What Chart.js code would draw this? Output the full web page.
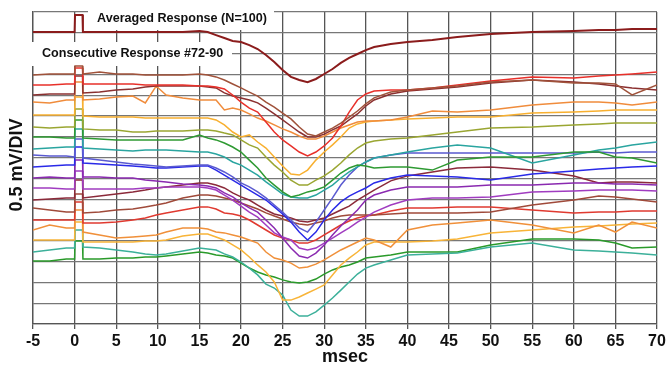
<!DOCTYPE html>
<html>
<head>
<meta charset="utf-8">
<script src="https://cdn.jsdelivr.net/npm/chart.js@4.4.0/dist/chart.umd.min.js"></script>
<style>
  html, body { margin: 0; padding: 0; background: #fff; }
  #wrap { width: 669px; height: 367px; }
</style>
</head>
<body>
<div id="wrap"><canvas id="chart" width="669" height="367"></canvas></div>
<script>
// Время, мс (общая сетка для всех кривых)
const times = [-5, -3, -1, 0, 0.05, 0.95, 1, 3, 5, 7, 8.5, 9.8, 11, 13, 15, 16, 17, 18, 19, 20,
  21, 22, 23, 24, 25, 26, 27, 28, 29, 30, 31, 32, 33, 34, 35, 36, 38, 40, 43, 46, 50, 55, 60, 63, 65, 67, 70];

// Значения в делениях (0.5 мВ / деление), снизу вверх
const averaged = [14.04,14.04,14.04,14.04,14.86,14.86,14.04,14.04,14.04,14.04,14.04,14.04,14.04,14.04,14.09,14.04,13.89,13.75,13.61,13.56,13.41,13.22,12.93,12.6,12.21,11.88,11.73,11.63,11.78,12.02,12.26,12.55,12.79,12.98,13.17,13.32,13.46,13.56,13.65,13.8,13.94,14.04,14.09,14.13,14.13,14.18,14.18];
const resp72 = [11.97,12.02,12.02,12.02,12.4,12.4,12.02,12.12,12.02,12.02,11.97,11.97,11.97,11.97,12.02,11.97,11.88,11.73,11.54,11.35,11.15,10.96,10.67,10.43,10.14,9.86,9.47,9.13,9.04,9.23,9.42,9.66,9.95,10.24,10.58,10.87,11.15,11.25,11.35,11.44,11.63,11.73,11.59,11.59,11.54,11.01,11.49];
const resp73 = [11.49,11.49,11.54,11.54,12.31,12.31,11.54,11.54,11.54,11.54,11.49,11.49,11.49,11.49,11.44,11.44,11.39,11.3,11.01,10.67,10.38,10.19,9.71,9.23,8.85,8.56,8.27,8.08,8.27,8.56,8.94,9.52,10.19,10.77,11.06,11.2,11.25,11.25,11.35,11.49,11.68,11.88,11.83,11.92,11.97,12.02,12.12];
const resp74 = [11.01,11.06,11.06,11.06,11.92,11.92,11.11,11.15,11.25,11.3,11.39,11.44,11.44,11.44,11.44,11.39,11.35,11.11,10.96,10.87,10.77,10.63,10.38,10.1,9.81,9.52,9.23,8.99,8.99,9.13,9.33,9.52,9.81,10.1,10.48,10.77,11.06,11.2,11.3,11.39,11.59,11.73,11.63,11.54,11.44,11.35,11.25];
const resp75 = [10.67,10.63,10.77,10.77,11.63,11.63,10.77,10.82,10.91,10.96,10.63,11.44,11.01,10.87,10.77,10.77,10.77,10.29,10.38,10.29,10.1,9.9,9.76,9.57,9.38,9.23,9.04,8.89,8.89,9.04,9.23,9.42,9.57,9.71,9.76,9.76,9.81,9.95,10.24,10.19,10.29,10.53,10.67,10.67,10.63,10.53,10.67];
const resp76 = [10.05,10.05,10.05,10.05,10.91,10.91,10.0,9.95,9.95,9.95,9.9,9.9,9.9,9.9,9.9,9.9,9.81,9.57,9.23,8.99,9.09,8.75,8.46,8.03,7.6,7.21,7.16,7.4,7.88,8.27,8.61,8.99,9.42,9.62,9.71,9.76,9.81,9.86,9.9,9.95,9.95,10.14,10.19,10.24,10.29,10.29,10.29];
const resp77 = [9.47,9.42,9.47,9.47,10.34,10.34,9.38,9.33,9.33,9.23,9.23,9.28,9.28,9.28,9.33,9.33,9.28,9.18,9.09,8.85,8.61,8.46,8.03,7.64,7.31,6.92,6.68,6.68,6.92,7.12,7.4,7.74,8.13,8.46,8.7,8.8,8.89,8.94,9.09,9.23,9.42,9.47,9.57,9.62,9.66,9.66,9.66];
const resp78 = [8.99,8.99,8.94,8.94,9.81,9.81,8.94,8.89,8.85,8.85,8.85,8.85,8.85,8.85,9.09,8.94,8.85,8.7,8.51,8.27,7.88,7.5,7.02,6.68,6.35,6.11,6.2,6.35,6.44,6.59,6.92,7.26,7.5,7.64,7.6,7.5,7.55,7.55,7.4,7.88,8.03,8.03,8.27,8.27,8.03,7.98,7.74];
const resp79 = [8.41,8.46,8.51,8.51,9.38,9.38,8.46,8.41,8.37,8.32,8.37,8.37,8.37,8.32,8.27,8.27,8.17,8.03,7.79,7.64,7.4,7.16,6.83,6.54,6.25,6.11,6.06,6.06,6.2,6.44,6.68,7.02,7.31,7.55,7.79,7.98,8.13,8.27,8.46,8.61,8.46,7.74,8.13,8.37,8.46,8.61,8.75];
const resp80 = [8.13,8.08,8.08,8.03,8.89,8.89,7.98,7.88,7.79,7.69,7.64,7.6,7.55,7.6,7.64,7.64,7.5,7.31,7.07,6.78,6.59,6.35,6.06,5.72,5.38,5.0,4.62,4.42,4.9,5.48,6.06,6.68,7.16,7.55,7.79,7.98,8.13,8.22,8.22,8.22,8.22,8.22,8.22,8.27,8.22,8.27,8.27];
const resp81 = [7.55,7.6,7.64,7.64,8.51,8.51,7.74,7.69,7.64,7.6,7.55,7.5,7.5,7.55,7.6,7.6,7.4,7.16,6.92,6.68,6.44,6.2,5.96,5.63,5.29,4.9,4.42,4.04,4.42,5.0,5.48,5.87,6.15,6.35,6.54,6.78,7.02,7.16,7.12,7.07,6.92,7.21,7.36,7.45,7.5,7.55,7.6];
const resp82 = [7.02,7.07,7.02,7.02,7.88,7.88,7.07,7.07,7.02,7.02,6.92,6.88,6.83,6.73,6.68,6.63,6.54,6.3,6.11,5.82,5.58,5.38,5.0,4.62,4.13,3.65,3.27,3.17,3.41,3.8,4.28,4.71,5.1,5.48,5.96,6.2,6.44,6.59,6.59,6.59,6.68,6.68,6.78,6.78,6.73,6.73,6.68];
const resp83 = [6.54,6.54,6.49,6.49,7.36,7.36,6.49,6.49,6.49,6.49,6.54,6.54,6.59,6.59,6.59,6.54,6.44,6.2,5.96,5.67,5.38,5.14,4.76,4.38,4.18,4.04,3.65,3.56,3.65,3.89,4.13,4.38,4.62,4.9,5.14,5.38,5.72,5.96,6.06,6.06,6.11,6.35,6.39,6.44,6.44,6.44,6.39];
const resp84 = [5.96,6.01,6.06,6.06,6.92,6.92,6.06,6.15,6.25,6.35,6.44,6.54,6.59,6.68,6.78,6.78,6.68,6.54,6.3,6.11,5.96,5.72,5.48,5.29,5.19,5.1,4.95,4.9,5.0,5.1,5.29,5.48,5.67,5.96,6.2,6.44,6.88,7.12,7.31,7.5,7.55,7.4,7.12,6.78,6.83,6.83,6.78];
const resp85 = [5.58,5.48,5.38,5.38,6.25,6.25,5.34,5.38,5.48,5.53,5.63,5.72,5.82,6.06,6.2,6.2,6.15,6.06,5.96,5.82,5.67,5.53,5.34,5.19,5.05,4.9,4.81,4.76,4.86,4.95,5.1,5.19,5.24,5.24,5.24,5.24,5.29,5.34,5.34,5.34,5.38,5.72,5.96,6.15,6.11,6.01,5.87];
const resp86 = [5.0,5.0,5.0,5.0,5.87,5.87,4.86,4.86,4.9,5.0,5.1,5.24,5.34,5.48,5.63,5.63,5.53,5.34,5.29,5.19,5.0,4.76,4.52,4.28,4.13,4.04,3.89,3.89,4.04,4.28,4.52,4.76,4.95,5.1,5.19,5.24,5.43,5.58,5.58,5.63,5.63,5.48,5.34,5.38,5.38,5.43,5.43];
const resp87 = [4.52,4.76,4.62,4.62,5.48,5.48,4.42,4.28,4.13,4.18,4.23,4.28,4.42,4.62,4.62,4.57,4.42,4.38,4.28,4.18,4.04,3.89,3.46,3.17,3.08,2.93,2.69,2.74,2.88,3.08,3.32,3.56,3.75,3.94,4.13,4.04,3.7,4.52,4.76,4.86,5.0,4.76,4.38,4.76,4.42,4.9,4.62];
const resp88 = [4.04,4.04,4.04,4.04,4.9,4.9,3.94,3.94,3.94,3.94,3.99,3.99,4.04,4.23,4.33,4.33,4.18,4.04,3.8,3.56,3.22,2.84,2.5,2.02,1.15,1.15,1.3,1.49,1.68,1.88,2.36,2.84,3.17,3.46,3.8,3.94,3.94,3.94,3.99,4.09,4.38,4.52,4.66,4.71,4.76,4.81,4.86];
const resp89 = [3.46,3.56,3.65,3.65,4.52,4.52,3.7,3.65,3.56,3.46,3.37,3.32,3.37,3.51,3.65,3.61,3.56,3.37,3.22,2.98,2.69,2.36,1.92,1.73,1.39,0.67,0.38,0.38,0.58,0.91,1.25,1.63,2.02,2.4,2.69,2.84,3.08,3.32,3.37,3.41,3.7,3.89,3.56,3.51,3.46,3.41,3.32];
const resp90 = [3.03,3.03,3.13,3.13,3.99,3.99,3.13,3.13,3.17,3.17,3.22,3.22,3.27,3.37,3.46,3.41,3.32,3.27,3.17,2.93,2.69,2.5,2.36,2.26,2.12,2.02,1.97,2.02,2.16,2.4,2.6,2.74,2.84,2.98,3.17,3.22,3.32,3.46,3.46,3.46,3.8,4.09,4.09,4.04,3.89,3.65,3.7];

const responses = [resp72, resp73, resp74, resp75, resp76, resp77, resp78, resp79, resp80, resp81,
  resp82, resp83, resp84, resp85, resp86, resp87, resp88, resp89, resp90];
const responseColors = ['#a0523a', '#e8302a', '#8b3030', '#f08c3c', '#f8b030', '#9aa632', '#2e9a32',
  '#2aa5a0', '#5a5ad0', '#2a2ae8', '#8a2ab0', '#a03cc0', '#8b2a3a', '#a04a3a', '#e03a30',
  '#f0903a', '#f8b438', '#3cb09a', '#2a9a2a'];

const FONT = 'Arial, "Liberation Sans", sans-serif';

function toPoints(values) {
    return values.map((v, i) => ({ x: times[i], y: v }));
}

const datasets = [{
    label: 'Averaged Response (N=100)',
    data: toPoints(averaged),
    borderColor: '#8b1c1c',
    borderWidth: 2
}];
responses.forEach((r, i) => {
    datasets.push({
        label: 'Response #' + (72 + i),
        data: toPoints(r),
        borderColor: responseColors[i],
        borderWidth: 1.5
    });
});

// Подписи поверх сетки и заголовки осей
const annotations = {
    id: 'annotations',
    beforeDatasetsDraw(chart) {
        const ctx = chart.ctx;
        ctx.save();
        ctx.fillStyle = '#fff';
        ctx.fillRect(88, 10, 186, 20);
        ctx.fillRect(32, 42, 200, 24);
        ctx.fillStyle = '#111';
        ctx.font = 'bold 12.6px ' + FONT;
        ctx.textBaseline = 'middle';
        ctx.fillText('Averaged Response (N=100)', 97, 19);
        ctx.fillText('Consecutive Response #72-90', 42, 54);
        ctx.restore();
    },
    afterDraw(chart) {
        const ctx = chart.ctx;
        ctx.save();
        ctx.fillStyle = '#111';
        ctx.font = 'bold 18px ' + FONT;
        ctx.textAlign = 'center';
        ctx.textBaseline = 'middle';
        ctx.fillText('msec', 345, 357);
        ctx.translate(17, 165);
        ctx.rotate(-Math.PI / 2);
        ctx.fillText('0.5 mV/DIV', 0, 0);
        ctx.restore();
    }
};

new Chart(document.getElementById('chart'), {
    type: 'line',
    data: { datasets: datasets },
    options: {
        responsive: false,
        animation: false,
        layout: { padding: { top: 12, right: 12, left: 0, bottom: 0 } },
        elements: {
            point: { radius: 0 },
            line: { tension: 0 }
        },
        scales: {
            x: {
                type: 'linear',
                min: -5,
                max: 70,
                afterFit: (scale) => { scale.height = 43; },
                ticks: {
                    stepSize: 5,
                    padding: 3,
                    color: '#111',
                    font: { family: FONT, size: 16, weight: 'bold' }
                },
                grid: { color: '#555', lineWidth: 1.3, tickLength: 5 },
                border: { color: '#555', width: 1.3 }
            },
            y: {
                min: 0,
                max: 15,
                afterFit: (scale) => { scale.width = 33; },
                ticks: { stepSize: 1, display: false },
                grid: { color: '#777', lineWidth: 1.3, drawTicks: false },
                border: { color: '#555', width: 1.3 }
            }
        },
        plugins: {
            legend: { display: false },
            tooltip: { enabled: false }
        }
    },
    plugins: [annotations]
});
</script>
</body>
</html>
